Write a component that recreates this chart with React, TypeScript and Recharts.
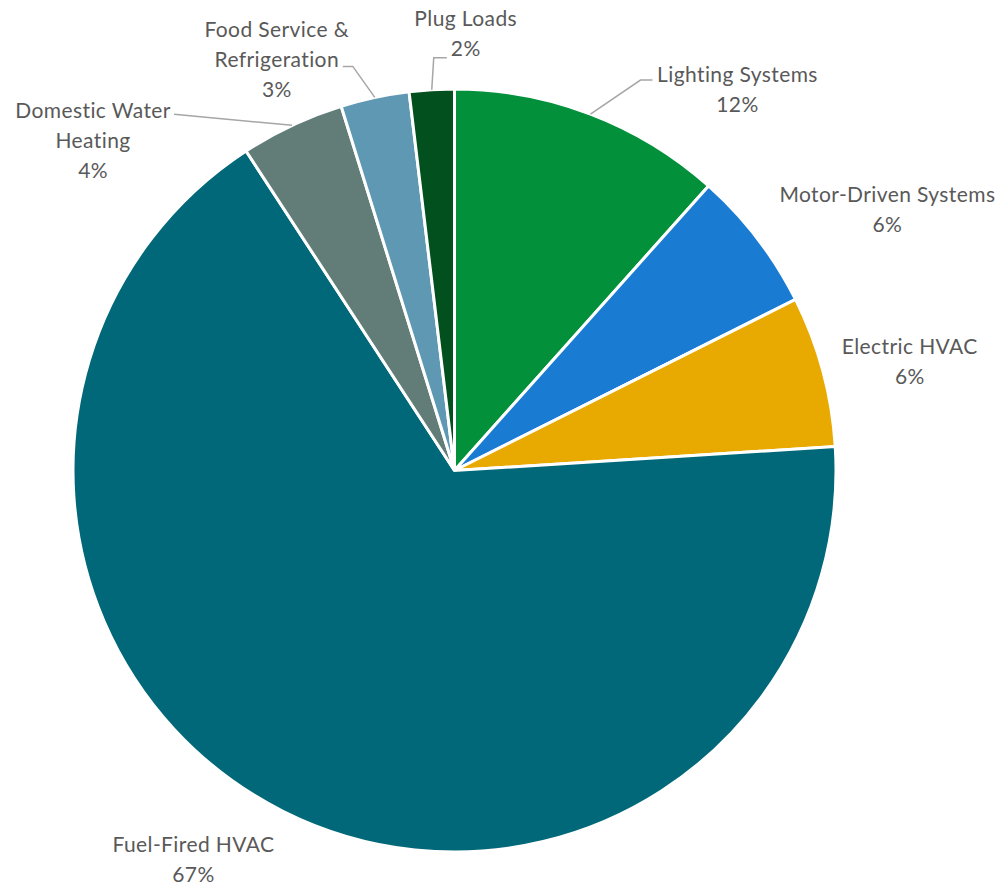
import React from 'react';
import {PieChart, Pie, Cell} from 'recharts';

// end-use categories, clockwise from 12 o'clock
const categories = [
    'Lighting Systems',
    'Motor-Driven Systems',
    'Electric HVAC',
    'Fuel-Fired HVAC',
    'Domestic Water Heating',
    'Food Service & Refrigeration',
    'Plug Loads',
];

// share of energy use (%)
const shares = [11.6, 6.0, 6.4, 66.8, 4.4, 2.9, 1.9];

const colors = ['#02903a', '#1a7bd2', '#e8a900', '#006878', '#627d77', '#5f98b3', '#03501f'];

// how each label is wrapped
const labelLines: string[][] = [
    ['Lighting Systems'],
    ['Motor-Driven Systems'],
    ['Electric HVAC'],
    ['Fuel-Fired HVAC'],
    ['Domestic Water', 'Heating'],
    ['Food Service &', 'Refrigeration'],
    ['Plug Loads'],
];

// label placement, offsets from the point on the rim at the slice middle
// tx/ty: text centre / first line, leader: elbow points (optional)
const labelLayout = [
    {tx: 147, ty: -41, leader: [[50, -34], [62, -34]]},
    {tx: 130, ty: -45, leader: null},
    {tx: 87, ty: -25, leader: null},
    {tx: -90, ty: 32, leader: null},
    {tx: -199, ty: -16, leader: [[-118, -11]]},
    {tx: -98, ty: -69, leader: [[-22, -31], [-32, -31]]},
    {tx: 34, ty: -72, leader: [[2, -32], [15, -32]]},
];

const RAD = Math.PI / 180;
const LINE_H = 30;

const chartData = categories.map((name, i) => ({name, value: shares[i]}));

const renderLabel = (props: any) => {
    const {cx, cy, midAngle, outerRadius, index, percent} = props;
    const layout = labelLayout[index];
    const px = cx + outerRadius * Math.cos(-midAngle * RAD);
    const py = cy + outerRadius * Math.sin(-midAngle * RAD);
    const lines = [...labelLines[index], `${Math.round(percent * 100)}%`];

    let path = '';
    if (layout.leader) {
        path = `M${px},${py}` + layout.leader.map(([dx, dy]) => ` L${px + dx},${py + dy}`).join('');
    }

    return (
        <g key={`label-${index}`}>
            {path && <path d={path} stroke="#a6a6a6" strokeWidth={1.5} fill="none"/>}
            <text
                x={px + layout.tx}
                y={py + layout.ty}
                textAnchor="middle"
                fill="#595959"
                fontSize={21}
                letterSpacing={0.4}
                fontFamily="Lato, 'Open Sans', sans-serif"
            >
                {lines.map((line, i) => (
                    <tspan key={i} x={px + layout.tx} y={py + layout.ty + i * LINE_H} dominantBaseline="central">
                        {line}
                    </tspan>
                ))}
            </text>
        </g>
    );
};

export default function App() {
    return (
        <div style={{position: 'absolute', left: 0, top: 0, width: 1005, height: 888, background: '#fff'}}>
            <PieChart width={1005} height={888} margin={{top: 0, right: 0, bottom: 0, left: 0}}>
                <Pie
                    data={chartData}
                    dataKey="value"
                    nameKey="name"
                    cx={454.5}
                    cy={470.5}
                    outerRadius={381.5}
                    startAngle={90}
                    endAngle={-270}
                    stroke="#ffffff"
                    strokeWidth={3}
                    label={renderLabel}
                    labelLine={false}
                    isAnimationActive={false}
                >
                    {chartData.map((entry, i) => (
                        <Cell key={entry.name} fill={colors[i]}/>
                    ))}
                </Pie>
            </PieChart>
        </div>
    );
}
